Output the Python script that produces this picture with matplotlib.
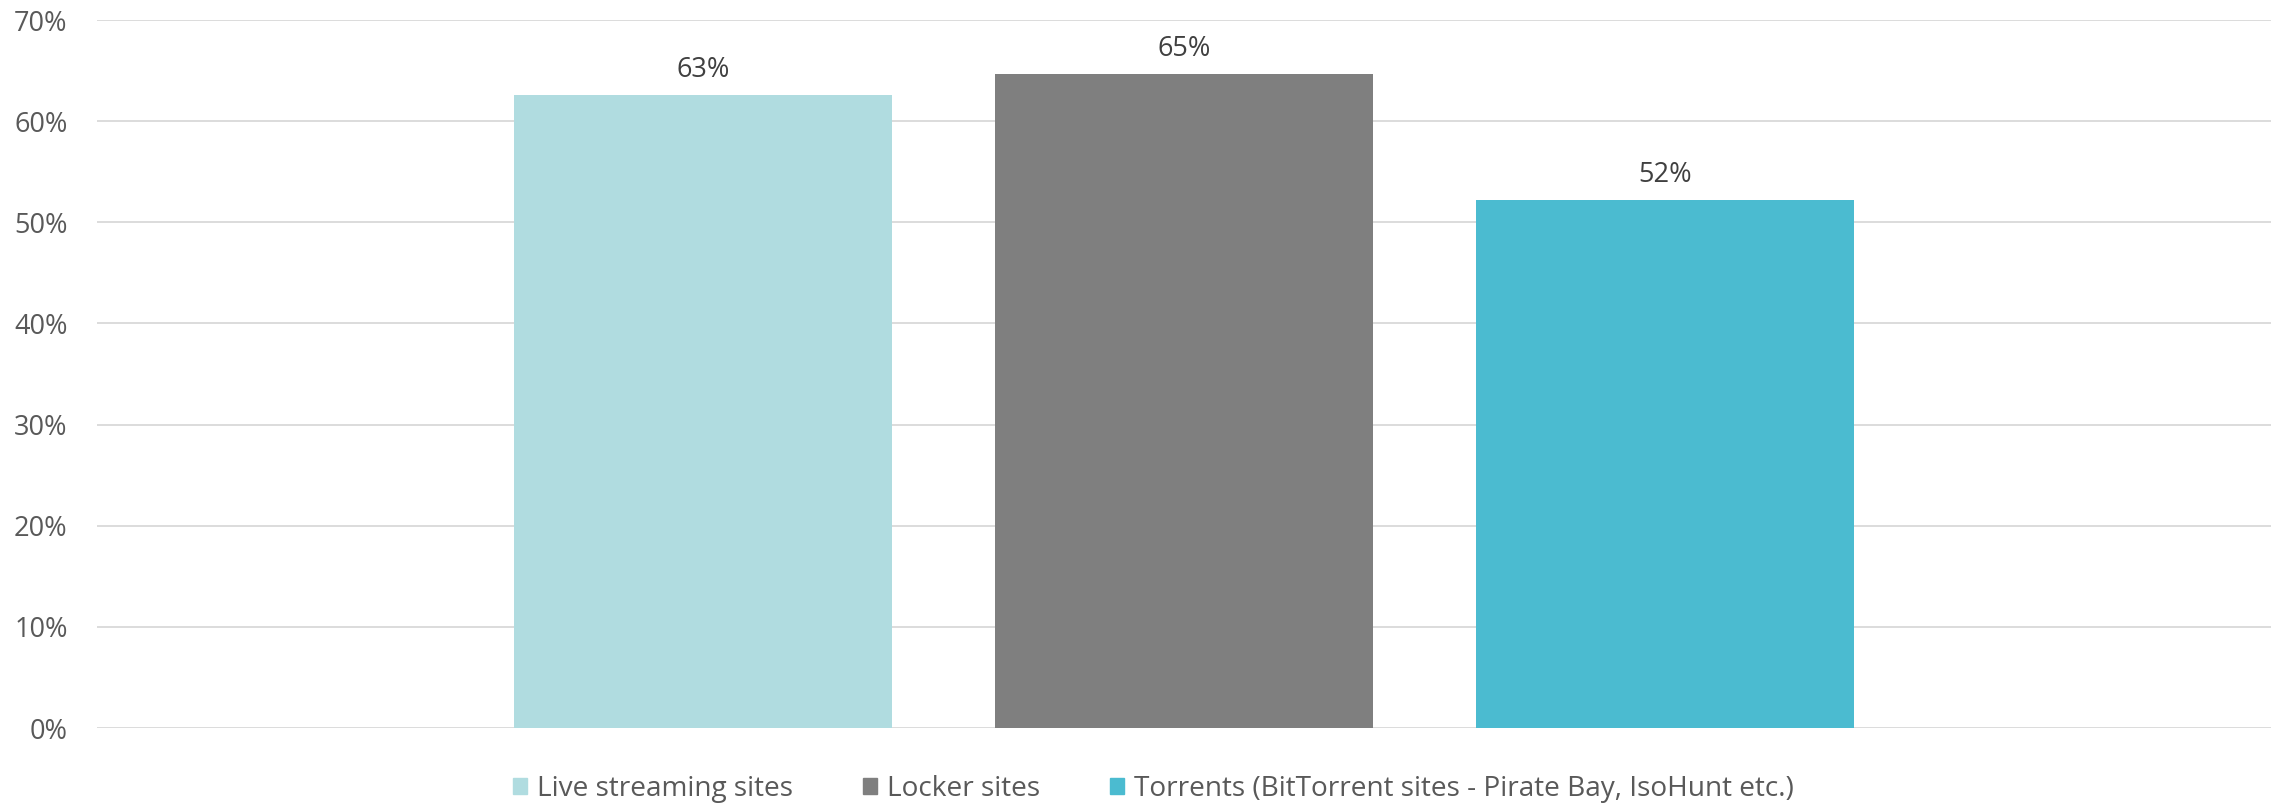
import numpy as np
import matplotlib
matplotlib.use('Agg')
import matplotlib.pyplot as plt
from matplotlib.patches import Rectangle
from matplotlib.ticker import FuncFormatter

# Dados ==============================================================
series = ['Live streaming sites', 'Locker sites',
          'Torrents (BitTorrent sites - Pirate Bay, IsoHunt etc.)']
valores = [62.6, 64.7, 52.2]
rotulos = ['63%', '65%', '52%']
cores = ['#B0DCE0', '#7F7F7F', '#4BBBD0']
yticks = [0, 10, 20, 30, 40, 50, 60, 70]

plt.rcParams['font.family'] = ['Open Sans', 'DejaVu Sans']

fig = plt.figure(figsize=(22.75, 8.08), dpi=100)
ax = fig.add_axes([0.0426, 0.099, 0.9556, 0.8762])

x = np.arange(len(valores))
bars = ax.bar(x, valores, width=0.786, color=cores, zorder=3)

for b, r in zip(bars, rotulos):
    ax.annotate(r, (b.get_x() + b.get_width() / 2, b.get_height()),
                xytext=(0, 8), textcoords='offset points',
                ha='center', va='bottom', fontsize=19.5, color='#404040')

ax.set_xlim(-1.26, 3.26)
ax.set_ylim(0, 70)
ax.set_yticks(yticks)
ax.yaxis.set_major_formatter(FuncFormatter(lambda v, p: '%d%%' % v))
ax.set_xticks([])
ax.tick_params(axis='y', length=0, pad=21, labelsize=19.5, labelcolor='#595959')
ax.grid(axis='y', color='#D9D9D9', linewidth=1.3, zorder=0)
for s in ax.spines.values():
    s.set_visible(False)

handles = [Rectangle((0, 0), 1, 1, color=c) for c in cores]
fig.legend(handles, series, loc='center', bbox_to_anchor=(0.507, 0.0235),
           ncol=3, frameon=False, fontsize=20.2, labelcolor='#595959',
           handlelength=0.5, handleheight=0.5, handletextpad=0.36,
           columnspacing=2.5, borderpad=0)

fig.savefig('out.png', dpi=100)
